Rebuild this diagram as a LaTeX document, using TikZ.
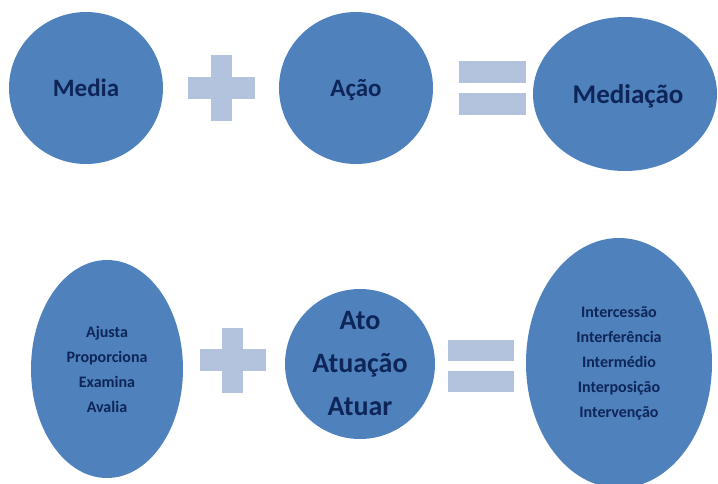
\documentclass[tikz,border=0pt]{standalone}
\usepackage{fontspec}
\setmainfont{Carlito}
\usetikzlibrary{shapes.geometric}
\definecolor{blobfill}{HTML}{4F81BD}
\definecolor{txtcol}{HTML}{0E2558}
\definecolor{opcol}{HTML}{B3C2DD}
\tikzset{
  blob/.style={ellipse, fill=blobfill, draw=none, inner sep=0pt, outer sep=0pt},
  bigtxt/.style={text=txtcol, font=\bfseries\fontsize{25}{30}\selectfont, inner sep=0pt, align=center, anchor=base},
  midtxt/.style={text=txtcol, font=\bfseries\fontsize{28}{43}\selectfont, inner sep=0pt, align=center},
  smalltxt/.style={text=txtcol, font=\bfseries\fontsize{16}{25}\selectfont, inner sep=0pt, align=center},
  opfill/.style={fill=opcol, draw=none}
}
\begin{document}
\begin{tikzpicture}[x=1pt,y=-1pt]
\useasboundingbox (0,0) rectangle (718,483);
\clip (0,0) rectangle (718,483);
% top row
\node[blob, minimum width=154pt, minimum height=152pt] (e1) at (86,88) {};
\node[blob, minimum width=154pt, minimum height=152pt] (e2) at (356,88) {};
\node[blob, minimum width=184pt, minimum height=154pt] (e3) at (625,94) {};
\node[bigtxt] (t1) at (86,96) {Media};
\node[bigtxt] (t2) at (356,96) {Ação};
\node[bigtxt, font=\bfseries\fontsize{27}{32}\selectfont] (t3) at (628,103) {Mediação};
\fill[opfill] (188,77) rectangle (255,99);
\fill[opfill] (211,55) rectangle (232,121);
\fill[opfill] (459,61) rectangle (526,83);
\fill[opfill] (459,93) rectangle (526,115);
% bottom row
\node[blob, minimum width=152pt, minimum height=218pt] (e4) at (107,369) {};
\node[blob, minimum width=150pt, minimum height=150pt] (e5) at (360,364) {};
\node[blob, minimum width=186pt, minimum height=250pt] (e6) at (619,363) {};
\node[smalltxt] (t4) at (e4) {Ajusta\\Proporciona\\Examina\\Avalia};
\node[midtxt] (t5) at (e5) {Ato\\Atuação\\Atuar};
\node[smalltxt] (t6) at (e6) {Intercessão\\Interferência\\Intermédio\\Interposição\\Intervenção};
\fill[opfill] (200,349) rectangle (266,371);
\fill[opfill] (222,328) rectangle (243,393);
\fill[opfill] (448,340) rectangle (514,361);
\fill[opfill] (448,371) rectangle (514,392);
\end{tikzpicture}
\end{document}
